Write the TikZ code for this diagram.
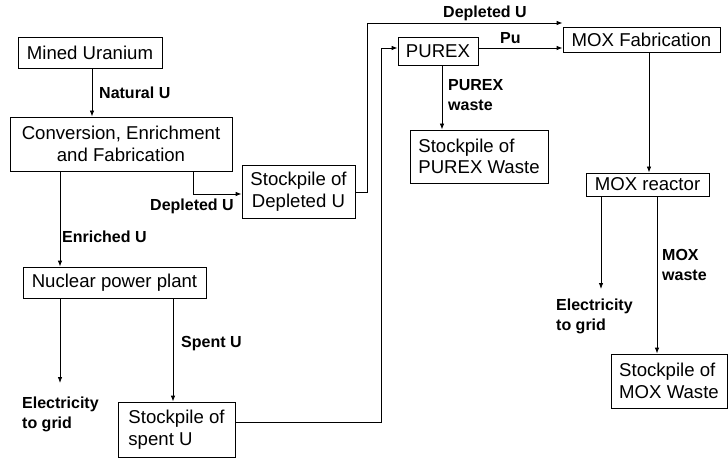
\documentclass[tikz,border=0pt]{standalone}
\usepackage{fontspec}
\setmainfont{Liberation Sans}
\usetikzlibrary{arrows.meta}
\begin{document}
\begin{tikzpicture}[x=1pt,y=-1pt,
  box/.style={draw,line width=0.8pt,inner sep=0pt,font=\fontsize{18.6}{21.5}\selectfont},
  lbl/.style={anchor=west,inner sep=0pt,align=left,font=\fontsize{16}{20}\selectfont\bfseries},
  arr/.style={line width=0.8pt,-{Latex[length=6pt,width=4.5pt]}},
  ln/.style={line width=0.8pt}]
\useasboundingbox (0,0) rectangle (728,465);
% boxes
\node[box,minimum width=144pt,minimum height=31pt] (mined) at (90,52.5) {Mined Uranium};
\node[box,minimum width=222pt,minimum height=54pt,align=center] (conv) at (121,144) {Conversion, Enrichment\\and Fabrication};
\node[box,minimum width=113pt,minimum height=53pt,align=center] (depl) at (298.5,191.5) {Stockpile of\\Depleted U};
\node[box,minimum width=183pt,minimum height=31pt] (npp) at (114.5,282.5) {Nuclear power plant};
\node[box,minimum width=117pt,minimum height=55pt,align=left] (spent) at (176.5,429.5) {Stockpile of\\spent U};
\node[box,minimum width=80pt,minimum height=28pt] (purex) at (438,51) {PUREX};
\node[box,minimum width=138pt,minimum height=53pt,align=left] (pwaste) at (479,156.5) {Stockpile of\\PUREX Waste};
\node[box,minimum width=157pt,minimum height=25pt] (moxfab) at (641.5,39.5) {MOX Fabrication};
\node[box,minimum width=123pt,minimum height=23pt] (moxr) at (647.5,184.5) {MOX reactor};
\node[box,minimum width=116pt,minimum height=54pt,align=left] (moxw) at (669,381) {Stockpile of\\MOX Waste};
% free ends
\coordinate (elecL) at (60,383);
\coordinate (elecR) at (601,289);
% labels
\node[lbl] (lnat) at (99,93) {Natural U};
\node[lbl] (lenr) at (62,237) {Enriched U};
\node[lbl] (ldep1) at (150,206) {Depleted U};
\node[lbl] (lspent) at (181,344) {Spent U};
\node[lbl] (lelec1) at (22,414.5) {Electricity\\to grid};
\node[lbl] (ldep2) at (443,13) {Depleted U};
\node[lbl] (lpu) at (500,38) {Pu};
\node[lbl] (lpw) at (448,95) {PUREX\\waste};
\node[lbl] (lelec2) at (556,316.5) {Electricity\\to grid};
\node[lbl] (lmw) at (662,265) {MOX\\waste};
% connectors
\draw[arr] (mined.south -| 92,0) -- (conv.north -| 92,0);
\draw[arr] (conv.south -| 60,0) -- (npp.north -| 60,0);
\draw[arr] (conv.south -| 193,0) |- (depl.west |- 0,194);
\draw[arr] (npp.south -| 60,0) -- (elecL);
\draw[arr] (npp.south -| 173,0) -- (spent.north -| 173,0);
\draw[arr] (spent.east |- 0,422) -| (381,48) -- (purex.west |- 0,48);
\draw[arr] (depl.east |- 0,192) -| (367,23) -- (moxfab.west |- 0,23);
\draw[arr] (purex.east |- 0,48) -- (moxfab.west |- 0,48);
\draw[arr] (purex.south -| 442,0) -- (pwaste.north -| 442,0);
\draw[arr] (moxfab.south -| 649,0) -- (moxr.north -| 649,0);
\draw[arr] (moxr.south -| 601,0) -- (elecR);
\draw[arr] (moxr.south -| 657,0) -- (moxw.north -| 657,0);
\end{tikzpicture}
\end{document}
